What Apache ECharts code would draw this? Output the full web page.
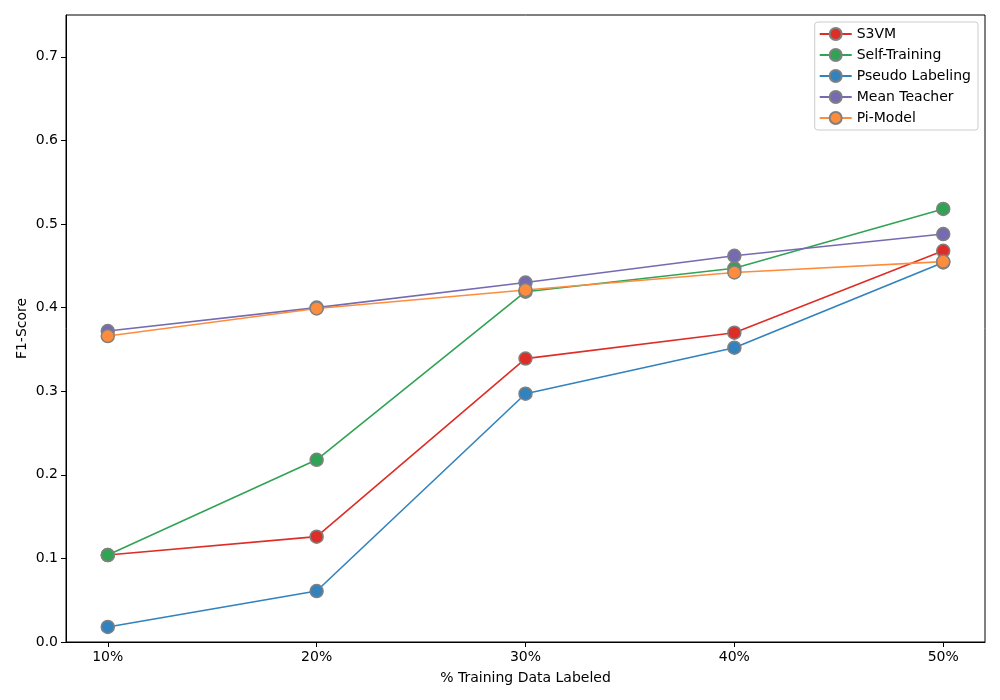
<!DOCTYPE html>
<html>
<head>
<meta charset="utf-8">
<script src="https://cdn.jsdelivr.net/npm/echarts@6/dist/echarts.min.js"></script>
<style>html,body{margin:0;padding:0;background:#fff}#c{width:1000px;height:700px}</style>
</head>
<body>
<div id="c"></div>
<script>
var categories = ['10%', '20%', '30%', '40%', '50%'];
var s3vm = [0.104, 0.126, 0.339, 0.370, 0.468];
var selfTraining = [0.104, 0.218, 0.419, 0.447, 0.518];
var pseudoLabeling = [0.018, 0.061, 0.297, 0.352, 0.454];
var meanTeacher = [0.372, 0.400, 0.430, 0.462, 0.488];
var piModel = [0.366, 0.399, 0.421, 0.442, 0.455];
var yTicks = [0, 0.1, 0.2, 0.3, 0.4, 0.5, 0.6, 0.7];

var seriesDefs = [
  {name: 'S3VM', data: s3vm, color: '#de2d26'},
  {name: 'Self-Training', data: selfTraining, color: '#31a354'},
  {name: 'Pseudo Labeling', data: pseudoLabeling, color: '#3182bd'},
  {name: 'Mean Teacher', data: meanTeacher, color: '#756bb1'},
  {name: 'Pi-Model', data: piModel, color: '#fd8d3c'}
];

var chart = echarts.init(document.getElementById('c'), null, {renderer: 'canvas'});
var font = 'DejaVu Sans';
chart.setOption({
  animation: false,
  textStyle: {fontFamily: font},
  grid: {left: 66, right: 15, top: 15, bottom: 58, outerBoundsMode: 'none', containLabel: false,
    show: true, borderColor: '#000', borderWidth: 1, backgroundColor: 'transparent'},
  legend: {
    orient: 'vertical', right: 22, top: 22,
    backgroundColor: '#fff', borderColor: '#cccccc', borderWidth: 1, borderRadius: 3,
    padding: [5, 7, 5, 4], itemGap: 7, itemWidth: 32, itemHeight: 15,
    textStyle: {fontFamily: font, fontSize: 14, color: '#000'},
    data: seriesDefs.map(function (s) { return s.name; })
  },
  xAxis: {
    type: 'value', min: -0.2, max: 4.2,
    name: '% Training Data Labeled', nameLocation: 'middle', nameGap: 29,
    nameTextStyle: {fontFamily: font, fontSize: 14, color: '#000'},
    axisLine: {show: true, onZero: false, lineStyle: {color: '#000'}},
    axisTick: {show: true, length: 5, lineStyle: {color: '#000'}, customValues: [0, 1, 2, 3, 4]},
    axisLabel: {color: '#000', fontSize: 14, fontFamily: font, margin: 8, customValues: [0, 1, 2, 3, 4],
      formatter: function (v) { return categories[Math.round(v)]; }},
    splitLine: {show: false}
  },
  yAxis: {
    type: 'value', min: 0, max: 0.75,
    name: 'F1-Score', nameLocation: 'middle', nameGap: 37, nameMoveOverlap: false,
    nameTextStyle: {fontFamily: font, fontSize: 14, color: '#000'},
    axisLine: {show: true, onZero: false, lineStyle: {color: '#000'}},
    axisTick: {show: true, length: 5, lineStyle: {color: '#000'}, customValues: yTicks},
    axisLabel: {color: '#000', fontSize: 14, fontFamily: font, margin: 8, customValues: yTicks,
      formatter: function (v) { return v.toFixed(1); }},
    splitLine: {show: false}
  },
  series: seriesDefs.map(function (s) {
    return {
      name: s.name, type: 'line',
      data: s.data.map(function (v, i) { return [i, v]; }),
      symbol: 'circle', symbolSize: 13,
      lineStyle: {color: s.color, width: 1.6},
      itemStyle: {color: s.color, borderColor: '#808080', borderWidth: 1.5},
      emphasis: {disabled: true}
    };
  })
});
</script>
</body>
</html>
